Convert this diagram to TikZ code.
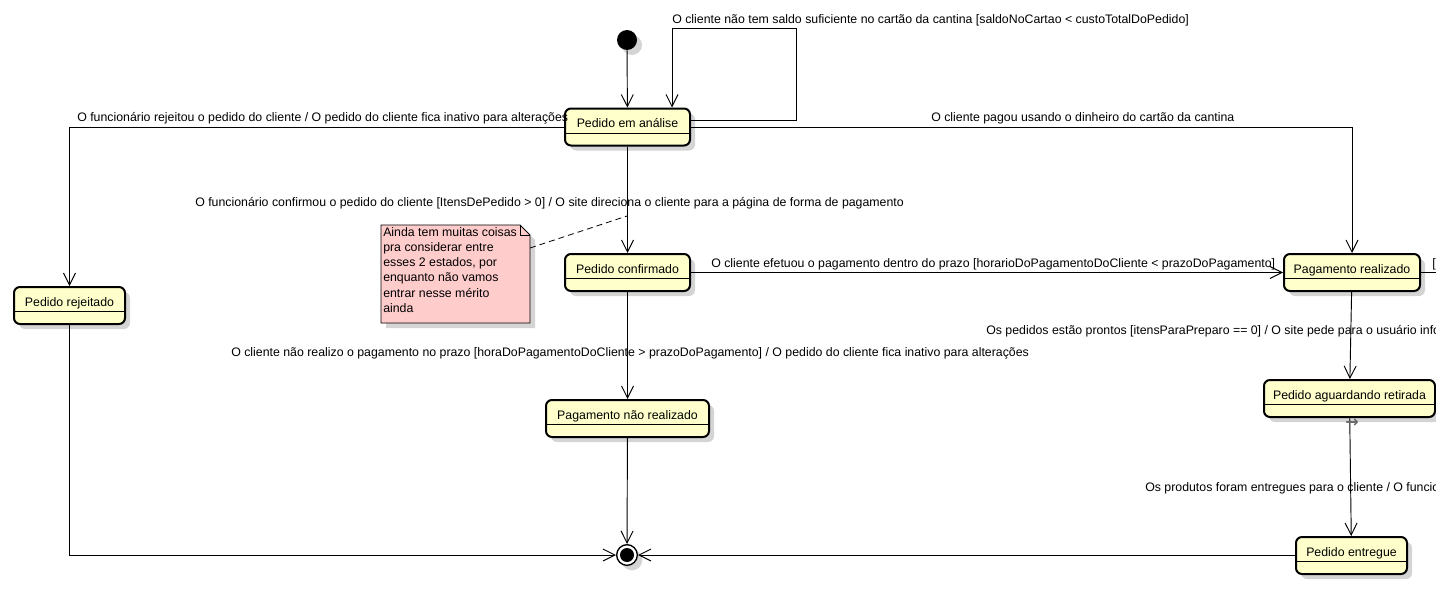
\documentclass[tikz,border=0pt]{standalone}
\usepackage{fontspec}
\setmainfont{Liberation Sans}
\newfontfamily\symfont{DejaVu Sans}
\usetikzlibrary{arrows.meta,calc}
\definecolor{statefill}{RGB}{255,255,204}
\definecolor{notefill}{RGB}{255,204,204}
\definecolor{shadowgray}{RGB}{212,212,212}
\begin{document}
\begin{tikzpicture}[x=0.75pt,y=-0.75pt,
  font=\fontsize{9.25}{11}\selectfont,
  shadowed/.style={preaction={fill=shadowgray,transform canvas={xshift=3.75pt,yshift=-3.75pt}}},
  state/.style={shadowed,draw,line width=1.5pt,rounded corners=4.5pt,fill=statefill,
    minimum height=27.75pt,inner sep=0pt,text height=6.75pt,text depth=6pt},
  flow/.style={line width=0.7pt,-{Straight Barb[length=9pt,width=9pt,line width=0.7pt]}},
  plain/.style={line width=0.7pt},
  lbl/.style={anchor=base west,inner sep=0pt},
]
\useasboundingbox (0,0) rectangle (1436,589);
\clip (0,0) rectangle (1436,589);

% pseudo states
\node[shadowed,circle,fill=black,minimum size=15pt,inner sep=0pt] (init) at (627,40) {};
\node[shadowed,circle,draw,line width=1pt,fill=white,minimum size=15.5pt,inner sep=0pt] (final) at (627,555) {};
\node[circle,fill=black,minimum size=10.5pt,inner sep=0pt] (finalDot) at (final) {};

% states
\node[state,minimum width=93.75pt] (analise) at (627.5,127) {Pedido em análise};
\node[state,minimum width=83.25pt] (rejeitado) at (69.5,305.5) {Pedido rejeitado};
\node[state,minimum width=93.75pt] (confirmado) at (627.5,272.5) {Pedido confirmado};
\node[state,minimum width=122.25pt] (naoreal) at (627.5,418.5) {Pagamento não realizado};
\node[state,minimum width=102pt] (pagreal) at (1352,272.5) {Pagamento realizado};
\node[state,minimum width=128.25pt] (aguardando) at (1349.5,398.5) {Pedido aguardando retirada};
\node[state,minimum width=83.25pt] (entregue) at (1351.5,555.5) {Pedido entregue};

% compartment dividers
\foreach \s in {analise,rejeitado,confirmado,naoreal,pagreal,aguardando,entregue}
  \draw[line width=0.8pt] ([yshift=10.1pt]\s.south west) -- ([yshift=10.1pt]\s.south east);

% note
\path[shadowed,fill=notefill] (381,225) -- (520,225) -- (530,235) -- (530,323) -- (381,323) -- cycle;
\draw[line width=0.6pt,fill=notefill] (381,225) -- (520,225) -- (530,235) -- (530,323) -- (381,323) -- cycle;
\draw[line width=0.6pt] (520,225) -- (520,235) -- (530,235);
\node[anchor=north west,inner sep=0pt,align=left,font=\fontsize{9.25}{11.4}\selectfont] (note) at (383,227)
  {Ainda tem muitas coisas\\pra considerar entre\\esses 2 estados, por\\enquanto não vamos\\entrar nesse mérito\\ainda};
\coordinate (noteLinkA) at (530,248);
\coordinate (noteLinkB) at (627,216);
\draw[line width=0.6pt,dash pattern=on 4.5pt off 3pt] (noteLinkA) -- (noteLinkB);

% transitions
\coordinate (loopCorner) at (796,28);
\coordinate (loopX) at (672,0);
\coordinate (offRight) at (1460,272.5);
\draw[flow] (init) -- (analise);
\draw[flow] ([yshift=5.25pt]analise.east) -| (loopCorner) -| (analise.north -| loopX);
\draw[flow] (analise.west) -| (rejeitado);
\draw[flow] (analise.east) -| (pagreal);
\draw[flow] (analise) -- (confirmado);
\draw[flow] (confirmado) -- (pagreal);
\draw[flow] (confirmado) -- (naoreal);
\draw[flow] (naoreal) -- (final);
\draw[flow] (rejeitado) |- (final);
\draw[flow] (entregue.west |- final) -- (final);
\draw[flow] (pagreal) -- (aguardando);
\draw[flow] (aguardando) -- (entregue);
\draw[plain] (pagreal.east) -- (offRight);
\node[inner sep=0pt,text=black!60,font=\symfont\bfseries\fontsize{12}{12}\selectfont] (histMark) at (1352,423) {→};

% transition labels
\node[lbl] (t1) at (672,23) {O cliente não tem saldo suficiente no cartão da cantina [saldoNoCartao < custoTotalDoPedido]};
\node[lbl] (t2) at (77,121) {O funcionário rejeitou o pedido do cliente / O pedido do cliente fica inativo para alterações};
\node[lbl] (t3) at (931,121) {O cliente pagou usando o dinheiro do cartão da cantina};
\node[lbl] (t4) at (195,206) {O funcionário confirmou o pedido do cliente [ItensDePedido > 0] / O site direciona o cliente para a página de forma de pagamento};
\node[lbl] (t5) at (711,267) {O cliente efetuou o pagamento dentro do prazo [horarioDoPagamentoDoCliente < prazoDoPagamento]};
\node[lbl] (t6) at (231,356) {O cliente não realizo o pagamento no prazo [horaDoPagamentoDoCliente > prazoDoPagamento] / O pedido do cliente fica inativo para alterações};
\node[lbl] (t7) at (986,334) {Os pedidos estão prontos [itensParaPreparo == 0] / O site pede para o usuário informar};
\node[lbl] (t8) at (1145,491) {Os produtos foram entregues para o cliente / O funcionário};
\node[lbl] (t9) at (1432,267) {[};
\end{tikzpicture}
\end{document}
